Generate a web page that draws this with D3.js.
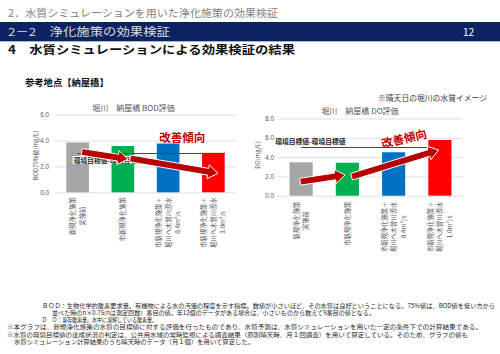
<!DOCTYPE html>
<html>
<head>
<meta charset="utf-8">
<script src="https://cdn.jsdelivr.net/npm/d3@7"></script>
<style>
  body { margin: 0; background: #fff; }
  svg { display: block; font-family: "Noto Sans CJK JP", "Noto Sans", sans-serif; }
</style>
</head>
<body>
<svg id="chart" width="500" height="354"></svg>
<script>
// ---- data ----
const categories = ["before", "city", "city+0.4", "city+1.0"];
const categoryLines = [
    ["新規浄化施策", "実施前"],
    ["市新規浄化施策"],
    ["市新規浄化施策＋", "堀川へ木曽川導水", "0.4m³/s"],
    ["市新規浄化施策＋", "堀川へ木曽川導水", "1.0m³/s"]
];
const barColors = ["#a5a5a5", "#00b050", "#0070c0", "#ff0000"];

const bodValues = [3.85, 3.58, 3.77, 3.05];
const bodTarget = 3.0;
const bodTicks = [0, 2, 4, 6];

const doValues = [3.46, 3.42, 4.50, 5.77];
const doTarget = 5.0;
const doTicks = [0, 2, 4, 6, 8];

// arrow segments: [fromIndex, fromValue, toIndex, toValue]
const bodArrows = [[0.09, 3.12, 1.11, 2.56], [1.16, 2.62, 3.10, 1.46]];
const doArrows = [[-0.02, 1.45, 0.95, 2.15], [1.09, 1.97, 2.97, 4.74]];

const targetLabel = "環境目標値-環境目標値";
const trendLabel = "改善傾向";

const notes = [
    "ＢＯＤ：生物化学的酸素要求量。有機物による水の汚濁の程度を示す指標。数値が小さいほど、その水質は良好ということになる。75%値は、BOD値を低い方から",
    "並べた時のn×0.75(nは測定回数）番目の値。年12個のデータがある場合は、小さいものから数えて9番目の値となる。",
    "Ｄ　Ｏ：溶存酸素量。水中に溶解している酸素量。",
    "※本グラフは、新規浄化施策の水質の目標値に対する評価を行ったものであり、水質予測は、水質シミュレーションを用いた一定の条件下での計算結果である。",
    "※水質の環境目標値の達成状況の判定は、公共用水域の常時監視による調査結果（原則晴天時、月１回調査）を用いて算定している。そのため、グラフの値も",
    "水質シミュレーション計算結果のうち晴天時のデータ（月１個）を用いて算定した。"
];

// ---- layout ----
const svg = d3.select("#chart");
const noteLayout = [
    {x: 42, y: 307.5, w: 453},
    {x: 52, y: 315, w: 323},
    {x: 42, y: 322, w: 115},
    {x: 7, y: 329, w: 475},
    {x: 7, y: 336.5, w: 461},
    {x: 14, y: 344, w: 240}
];

// page header
svg.append("text")
    .attr("x", 8).attr("y", 17)
    .attr("font-size", 10.5).attr("fill", "#7f7f7f")
    .attr("textLength", 270).attr("lengthAdjust", "spacingAndGlyphs")
    .text("2．水質シミュレーションを用いた浄化施策の効果検証");

svg.append("rect")
    .attr("x", 0).attr("y", 22).attr("width", 500).attr("height", 19)
    .attr("fill", "#0b2461");
svg.append("line")
    .attr("x1", 0).attr("x2", 500).attr("y1", 41.5).attr("y2", 41.5)
    .attr("stroke", "#8ea0c0").attr("stroke-width", 0.8);
svg.append("text")
    .attr("x", 8).attr("y", 36)
    .attr("font-size", 11).attr("fill", "#dcdcdc")
    .attr("textLength", 162).attr("lengthAdjust", "spacingAndGlyphs")
    .text("2－2　浄化施策の効果検証");
svg.append("text")
    .attr("x", 474).attr("y", 36).attr("text-anchor", "end")
    .attr("font-size", 10).attr("fill", "#ffffff")
    .text("12");

svg.append("text")
    .attr("x", 8).attr("y", 53.5)
    .attr("font-size", 11.5).attr("font-weight", "bold").attr("fill", "#111")
    .attr("textLength", 287).attr("lengthAdjust", "spacingAndGlyphs")
    .text("4　水質シミュレーションによる効果検証の結果");

svg.append("text")
    .attr("x", 25).attr("y", 86)
    .attr("font-size", 9.3).attr("font-weight", "bold").attr("fill", "#111")
    .text("参考地点【納屋橋】");

svg.append("text")
    .attr("x", 487).attr("y", 101).attr("text-anchor", "end")
    .attr("font-size", 7.8).attr("fill", "#404040")
    .text("※晴天日の堀川の水質イメージ");

// block arrow along +x, rotated into place later
function arrowPath(len) {
    const s = 3.4, h = 7, hl = 10;
    const pts = [[0, -s], [len - hl, -s], [len - hl, -h], [len, 0], [len - hl, h], [len - hl, s], [0, s]];
    return d3.line()(pts) + "Z";
}

function drawChart(cfg) {
    const g = svg.append("g");

    const x = d3.scaleBand()
        .domain(categories)
        .range([cfg.left, cfg.right])
        .paddingInner(0.5)
        .paddingOuter(0.25);
    // fractional category index -> pixel
    const xi = d3.scaleLinear()
        .domain([0, categories.length - 1])
        .range([x(categories[0]) + x.bandwidth() / 2, x(categories[categories.length - 1]) + x.bandwidth() / 2]);
    const y = d3.scaleLinear()
        .domain([0, cfg.yMax])
        .range([cfg.bottom, cfg.top]);

    // grid + tick labels
    const axis = g.append("g")
        .attr("transform", `translate(${cfg.left},0)`)
        .call(d3.axisLeft(y)
            .tickValues(cfg.ticks)
            .tickSize(-(cfg.right - cfg.left))
            .tickPadding(cfg.tickPad)
            .tickFormat(d3.format(".1f")));
    axis.select(".domain").remove();
    axis.selectAll(".tick line").attr("stroke", "#d9d9d9").attr("stroke-width", 0.8);
    axis.selectAll(".tick text")
        .attr("fill", "#595959")
        .attr("font-size", 6.3)
        .attr("font-family", "Liberation Sans, Arial, sans-serif");

    // title
    g.append("text")
        .attr("x", cfg.titleX).attr("y", cfg.titleY)
        .attr("text-anchor", "middle")
        .attr("font-size", 8).attr("fill", "#595959")
        .text(cfg.title);

    // y label
    g.append("text")
        .attr("transform", `translate(${cfg.yLabelX},${(cfg.top + cfg.bottom) / 2 + cfg.yLabelDy}) rotate(-90)`)
        .attr("text-anchor", "middle")
        .attr("dominant-baseline", "central")
        .attr("font-size", 6).attr("fill", "#595959")
        .text(cfg.yLabel);

    // bars
    g.selectAll("rect.bar")
        .data(cfg.values)
        .join("rect")
        .attr("class", "bar")
        .attr("x", (d, i) => x(categories[i]))
        .attr("width", x.bandwidth())
        .attr("y", d => y(d))
        .attr("height", d => y(0) - y(d))
        .attr("fill", (d, i) => barColors[i]);

    // category labels (rotated, reading upward)
    const lineGap = 9.5;
    categoryLines.forEach((lines, i) => {
        const cx = x(categories[i]) + x.bandwidth() / 2;
        const texts = lines.map(t => {
            return g.append("text")
                .attr("text-anchor", "middle")
                .attr("dominant-baseline", "central")
                .attr("font-size", 6.3).attr("fill", "#595959")
                .text(t);
        });
        const maxLen = d3.max(texts, t => t.node().getComputedTextLength());
        const cy = y(0) + cfg.labelGap + maxLen / 2;
        texts.forEach((t, j) => {
            const lx = cx + (j - (lines.length - 1) / 2) * lineGap;
            t.attr("transform", `translate(${lx},${cy}) rotate(-90)`);
        });
    });

    // target line
    const tx0 = xi(0);
    const tx1 = x(categories[categories.length - 1]) + x.bandwidth();
    g.append("line")
        .attr("x1", tx0).attr("x2", tx1)
        .attr("y1", y(cfg.target)).attr("y2", y(cfg.target))
        .attr("stroke", "#e00000").attr("stroke-width", 1.1);

    const lbl = g.append("text")
        .attr("x", tx0 + cfg.targetLabelDx)
        .attr("y", y(cfg.target) + cfg.targetLabelDy)
        .attr("dominant-baseline", "central")
        .attr("font-size", 6.8).attr("font-weight", "bold").attr("fill", "#262626")
        .text(targetLabel);
    const bb = lbl.node().getBBox();
    g.insert("rect", () => lbl.node())
        .attr("x", bb.x - 1).attr("y", bb.y + 1)
        .attr("width", bb.width + 2).attr("height", bb.height - 2)
        .attr("fill", "#fff");

    // arrows
    g.selectAll("path.arrow")
        .data(cfg.arrows)
        .join("path")
        .attr("class", "arrow")
        .attr("transform", d => {
            const x1 = xi(d[0]), y1 = y(d[1]), x2 = xi(d[2]), y2 = y(d[3]);
            const ang = Math.atan2(y2 - y1, x2 - x1) * 180 / Math.PI;
            return `translate(${x1},${y1}) rotate(${ang})`;
        })
        .attr("d", d => arrowPath(Math.hypot(xi(d[2]) - xi(d[0]), y(d[3]) - y(d[1]))))
        .attr("fill", "#b80000")
        .attr("stroke", "#ffffff")
        .attr("stroke-width", 0.9);

    // trend label
    g.append("text")
        .attr("transform", `translate(${xi(cfg.trendAt[0])},${y(cfg.trendAt[1])}) rotate(${cfg.trendRot})`)
        .attr("text-anchor", "middle")
        .attr("dominant-baseline", "central")
        .attr("font-size", 11.5).attr("font-weight", "bold").attr("fill", "#c00000")
        .text(trendLabel);
}

drawChart({
    left: 55, right: 236, top: 114.7, bottom: 192.3, yMax: 6, ticks: bodTicks, tickPad: 6,
    values: bodValues, target: bodTarget, arrows: bodArrows,
    title: "堀川　納屋橋 BOD評価", titleX: 133.5, titleY: 110.5,
    yLabel: "BOD75%値(mg/L)", yLabelX: 35, yLabelDy: 2,
    labelGap: 5, targetLabelDx: -4, targetLabelDy: 6.5,
    trendAt: [2.31, 4.25], trendRot: 0
});

drawChart({
    left: 278, right: 463, top: 118.5, bottom: 195.7, yMax: 8, ticks: doTicks, tickPad: 4,
    values: doValues, target: doTarget, arrows: doArrows,
    title: "堀川　納屋橋 DO評価", titleX: 360, titleY: 114,
    yLabel: "DO(mg/L)", yLabelX: 257, yLabelDy: -2,
    labelGap: 6, targetLabelDx: -26, targetLabelDy: -6.5,
    trendAt: [2.22, 5.98], trendRot: -13
});

// footnotes
svg.selectAll("text.note")
    .data(notes)
    .join("text")
    .attr("class", "note")
    .attr("x", (d, i) => noteLayout[i].x)
    .attr("y", (d, i) => noteLayout[i].y)
    .attr("font-size", 5.8)
    .attr("fill", "#262626")
    .attr("textLength", (d, i) => noteLayout[i].w)
    .attr("lengthAdjust", "spacingAndGlyphs")
    .text(d => d);
</script>
</body>
</html>
